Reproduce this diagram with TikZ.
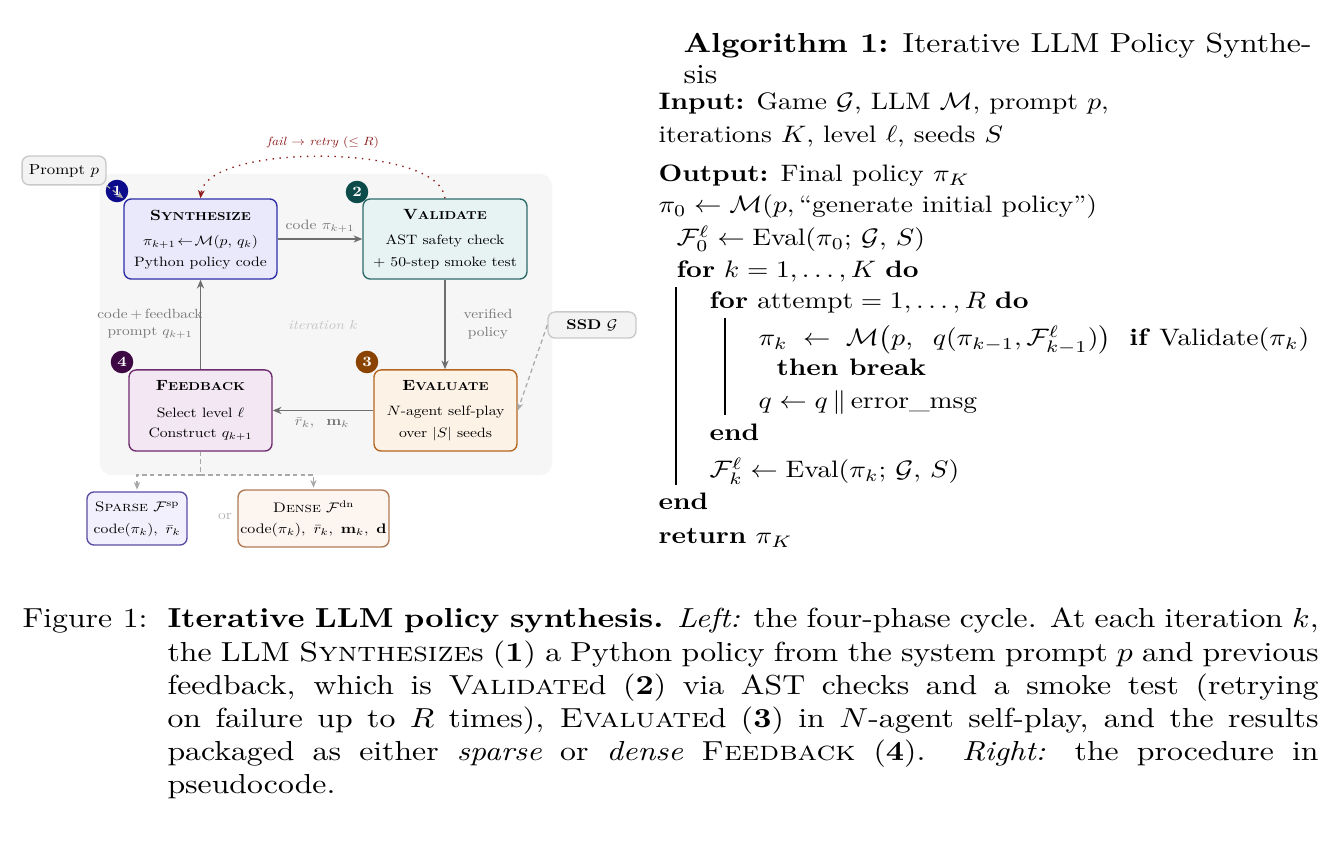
\documentclass[tikz,border=0pt]{standalone}
\usepackage{amsmath,amssymb}
\usepackage{graphicx}
\usetikzlibrary{arrows.meta}
\definecolor{bgfill}{HTML}{F6F6F6}
\definecolor{synfill}{HTML}{E9E9FB}
\definecolor{synline}{HTML}{2E2EA8}
\definecolor{bone}{HTML}{0B0B8C}
\definecolor{valfill}{HTML}{E7F2F2}
\definecolor{valline}{HTML}{2E6B6B}
\definecolor{btwo}{HTML}{0D4A4A}
\definecolor{evafill}{HTML}{FDF2E6}
\definecolor{evaline}{HTML}{B5651D}
\definecolor{bthree}{HTML}{8A4300}
\definecolor{feedfill}{HTML}{F3E7F3}
\definecolor{feedline}{HTML}{6E2B6E}
\definecolor{bfour}{HTML}{3E0845}
\definecolor{spfill}{HTML}{F1F0FC}
\definecolor{spline}{HTML}{5B4DA6}
\definecolor{dnfill}{HTML}{FDF5EF}
\definecolor{dnline}{HTML}{B07A55}
\definecolor{pfill}{HTML}{F3F3F3}
\definecolor{pline}{HTML}{C9C9C9}
\definecolor{arrgray}{HTML}{6E6E6E}
\definecolor{labgray}{HTML}{777777}
\definecolor{dashgray}{HTML}{A8A8A8}
\definecolor{retryred}{HTML}{8E1B1B}
\definecolor{itgray}{HTML}{C4C4C4}
\definecolor{orgray}{HTML}{B4B4B4}
% text at 10pt design, scaled: #1 = horizontal size (pt), vertical squashed by 1.155
\newcommand{\ts}[2]{\pgfmathsetmacro\tsx{#1/10}\pgfmathsetmacro\tsy{#1/11.55}\scalebox{\tsx}[\tsy]{\fontsize{10}{12}\selectfont #2}}
\newcommand{\sx}[1]{\scalebox{1.155}[1]{#1}}
\newcommand{\ab}[1]{\scalebox{1}[0.866]{#1}}
\newcommand{\bsc}[2]{\textbf{#1\scalebox{0.78}{#2}}}
\newcommand{\cfont}{\fontsize{10}{12}\selectfont}
\newcommand{\cl}[1]{\sx{\makebox[362.4pt][s]{#1}}}
\tikzset{
 bx/.style={draw, rounded corners=2.6pt, line width=0.5pt, inner sep=0pt},
 badge/.style={circle, inner sep=0pt, minimum size=8.2pt, text=white, font=\bfseries},
 tx/.style={inner sep=0pt},
 lbl/.style={inner sep=0pt, text=labgray},
 flow/.style={draw=arrgray, line width=0.55pt, -{Stealth[length=3.2pt,width=2.6pt]}},
 dsh/.style={draw=dashgray, line width=0.45pt, dash pattern=on 1.6pt off 1.2pt, -{Stealth[length=2.8pt,width=2.3pt]}},
 dshline/.style={draw=dashgray, line width=0.45pt, dash pattern=on 1.6pt off 1.2pt},
 retry/.style={draw=retryred, line width=0.5pt, dotted, -{Stealth[length=3pt,width=2.5pt]}},
 al/.style={anchor=base west, inner sep=0pt, font=\cfont},
}
\begin{document}
\begin{tikzpicture}[x=0.36364pt,y=-0.36364pt]
\path[use as bounding box, fill=white] (0,0) rectangle (1337,849);

% ---------- diagram ----------
\node[fill=bgfill, rounded corners=4.4pt, minimum width=164.4pt, minimum height=109.5pt, inner sep=0pt] (bg) at (326,324.5) {};

\node[bx, fill=pfill, draw=pline, minimum width=30.5pt, minimum height=10.5pt] (P) at (64,170.5) {\ts{6.1}{Prompt $p$}};
\node[bx, fill=pfill, draw=pline, minimum width=32pt, minimum height=9.5pt] (G) at (592,325) {\ts{5.9}{\textbf{SSD} $\mathcal{G}$}};

\node[bx, fill=synfill, draw=synline, minimum width=55.6pt, minimum height=29.1pt] (S) at (200.5,239) {};
\node[bx, fill=valfill, draw=valline, minimum width=59.6pt, minimum height=29.1pt] (V) at (445,239) {};
\node[bx, fill=evafill, draw=evaline, minimum width=52pt, minimum height=29.5pt] (E) at (445.5,410.5) {};
\node[bx, fill=feedfill, draw=feedline, minimum width=52pt, minimum height=29.5pt] (F) at (200.5,410.5) {};

\node[tx] (St) at (200.5,215) {\ts{6.2}{\bsc{S}{YNTHESIZE}}};
\node[tx] (S2) at (200.5,242) {\ts{5.7}{$\pi_{k+1}\!\leftarrow\!\mathcal{M}(p,\,q_k)$}};
\node[tx] (S3) at (200.5,263) {\ts{5.7}{Python policy code}};

\node[tx] (Vt) at (445,215) {\ts{6.2}{\bsc{V}{ALIDATE}}};
\node[tx] (V2) at (445,241) {\ts{5.7}{AST safety check}};
\node[tx] (V3) at (445,263) {\ts{5.7}{$+$ 50-step smoke test}};

\node[tx] (Et) at (445.5,386) {\ts{6.2}{\bsc{E}{VALUATE}}};
\node[tx] (E2) at (445.5,412) {\ts{5.7}{$N$-agent self-play}};
\node[tx] (E3) at (445.5,434) {\ts{5.7}{over $|S|$ seeds}};

\node[tx] (Ft) at (200.5,386) {\ts{6.2}{\bsc{F}{EEDBACK}}};
\node[tx] (F2) at (200.5,413) {\ts{5.7}{Select level $\ell$}};
\node[tx] (F3) at (200.5,434) {\ts{5.7}{Construct $q_{k+1}$}};

\node[badge, fill=bone] (b1) at (117,191) {\ts{6}{1}};
\node[badge, fill=btwo] (b2) at (357,192) {\ts{6}{2}};
\node[badge, fill=bthree] (b3) at (367,362) {\ts{6}{3}};
\node[badge, fill=bfour] (b4) at (122,362) {\ts{6}{4}};

\node[bx, fill=spfill, draw=spline, minimum width=36.4pt, minimum height=19.3pt] (Sp) at (137,518.5) {};
\node[tx] (Sp1) at (137,507) {\ts{5.8}{\textsc{Sparse} $\mathcal{F}^{\mathrm{sp}}$}};
\node[tx] (Sp2) at (137,530) {\ts{5.7}{$\mathrm{code}(\pi_k),\ \bar r_k$}};

\node[bx, fill=dnfill, draw=dnline, minimum width=54.9pt, minimum height=20.7pt] (Dn) at (313.5,518.5) {};
\node[tx] (Dn1) at (313.5,507) {\ts{5.8}{\textsc{Dense} $\mathcal{F}^{\mathrm{dn}}$}};
\node[tx] (Dn2) at (313.5,530) {\ts{5.8}{$\mathrm{code}(\pi_k),\ \bar r_k,\ \mathbf{m}_k,\ \mathbf{d}$}};

\node[lbl, text=orgray] (or) at (225,517) {\ts{5.7}{or}};
\node[lbl, text=itgray] (it) at (323,325) {\ts{5.5}{\textit{iteration $k$}}};
\node[lbl] (l1) at (320,226) {\ts{5.7}{code $\pi_{k+1}$}};
\node[lbl] (l2a) at (488,314) {\ts{5.6}{verified}};
\node[lbl] (l2b) at (488,333) {\ts{5.6}{policy}};
\node[lbl] (l3) at (322,423) {\ts{5.7}{$\bar r_k,\;\ \mathbf{m}_k$}};
\node[lbl] (l4a) at (150,314) {\ts{5.6}{code$\,+\,$feedback}};
\node[lbl] (l4b) at (150,333) {\ts{5.6}{prompt $q_{k+1}$}};
\node[lbl, text=retryred] (l5) at (323,143) {\ts{5.0}{\textit{fail} $\rightarrow$ \textit{retry} ($\leq R$)}};

\draw[flow] (S.east) -- (V.west);
\draw[flow] (V.south) -- (V.south |- E.north);
\draw[flow] (E.west) -- (F.east);
\draw[flow] (F.north) -- (S.south);
\draw[retry] (V.north) .. controls (440,143) and (206,143) .. (S.north);
\draw[dsh] (P.south east) -- (S.north west);
\draw[dsh] (G.west) -- (E.east);
\coordinate (j) at (200.5,475);
\draw[dshline] (F.south) -- (j);
\draw[dsh] (j) -| ([yshift=0.6pt]Sp.north);
\draw[dsh] (j) -| ([yshift=0.6pt]Dn.north);

% ---------- algorithm ----------
\node[al] (at1) at (683,53) {\sx{\textbf{Algorithm 1:} Iterative LLM Policy Synthe-}};
\node[al] (at2) at (683,84) {\sx{sis}};
\node[al] (a1) at (658,110) {\ab{\textbf{Input:} Game $\mathcal{G}$, LLM $\mathcal{M}$, prompt $p$,}};
\node[al] (a2) at (658,143) {\ab{iterations $K$, level $\ell$, seeds $S$}};
\node[al] (a3) at (658,182) {\ab{\textbf{Output:} Final policy $\pi_K$}};
\node[al] (a4) at (658,213) {\ab{$\pi_0 \leftarrow \mathcal{M}(p,\,$``generate initial policy''$)$}};
\node[al] (a5) at (676,246) {\ab{$\mathcal{F}^{\ell}_0 \leftarrow \mathrm{Eval}(\pi_0;\,\mathcal{G},\,S)$}};
\node[al] (a6) at (676,278) {\ab{\textbf{for} $k = 1,\ldots,K$ \textbf{do}}};
\node[al] (a7) at (709,309) {\ab{\textbf{for} $\mathrm{attempt} = 1,\ldots,R$ \textbf{do}}};
\node[al] (a8) at (758,346) {\ab{$\pi_k \;\leftarrow\; \mathcal{M}\big(p,\;\; q(\pi_{k-1},\mathcal{F}^{\ell}_{k-1})\big)$\ \ \textbf{if} Validate$(\pi_k)$}};
\node[al] (a9) at (776,376) {\ab{\textbf{then break}}};
\node[al] (a10) at (758,409) {\ab{$q \leftarrow q\,\|\,$error\_msg}};
\node[al] (a11) at (709,441) {\ab{\textbf{end}}};
\node[al] (a12) at (709,478) {\ab{$\mathcal{F}^{\ell}_k \leftarrow \mathrm{Eval}(\pi_k;\,\mathcal{G},\,S)$}};
\node[al] (a13) at (658,510) {\ab{\textbf{end}}};
\node[al] (a14) at (658,544) {\ab{\textbf{return} $\pi_K$}};
\draw[line width=0.5pt] (676,287) -- (676,485);
\draw[line width=0.5pt] (725,318) -- (725,415);

% ---------- caption ----------
\node[al] (fig) at (22,628) {\sx{Figure 1:}};
\node[al] (c1) at (167,628) {\cl{\textbf{Iterative LLM policy synthesis.} \textit{Left:} the four-phase cycle. At each iteration $k$,}};
\node[al] (c2) at (167,661) {\cl{the LLM \textsc{Synthesize}s (\textbf{1}) a Python policy from the system prompt $p$ and previous}};
\node[al] (c3) at (167,694) {\cl{feedback, which is \textsc{Validate}d (\textbf{2}) via AST checks and a smoke test (retrying}};
\node[al] (c4) at (167,727) {\cl{on failure up to $R$ times), \textsc{Evaluate}d (\textbf{3}) in $N$-agent self-play, and the results}};
\node[al] (c5) at (167,760) {\cl{packaged as either \textit{sparse} or \textit{dense} \textsc{Feedback} (\textbf{4}). \textit{Right:} the procedure in}};
\node[al] (c6) at (167,793) {\sx{pseudocode.}};
\end{tikzpicture}
\end{document}
